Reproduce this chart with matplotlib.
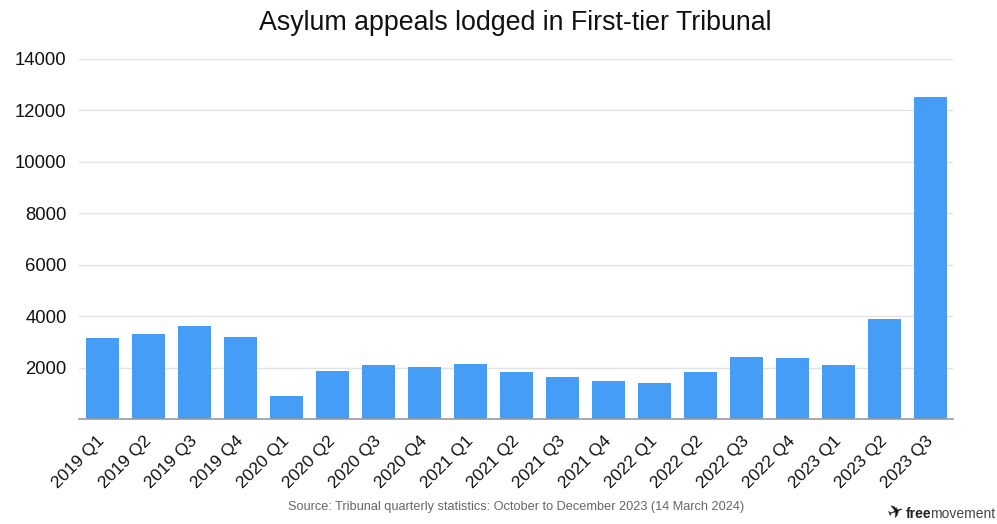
import matplotlib
matplotlib.use("Agg")
import matplotlib.pyplot as plt

# quarterly asylum appeals lodged
quarters = ["2019 Q1", "2019 Q2", "2019 Q3", "2019 Q4",
            "2020 Q1", "2020 Q2", "2020 Q3", "2020 Q4",
            "2021 Q1", "2021 Q2", "2021 Q3", "2021 Q4",
            "2022 Q1", "2022 Q2", "2022 Q3", "2022 Q4",
            "2023 Q1", "2023 Q2", "2023 Q3"]
appeals = [3150, 3300, 3600, 3200,
           900, 1870, 2100, 2010,
           2130, 1820, 1630, 1470,
           1410, 1830, 2400, 2370,
           2090, 3880, 12530]
yticks = [2000, 4000, 6000, 8000, 10000, 12000, 14000]

plt.rcParams["font.family"] = ["Liberation Sans", "DejaVu Sans"]

fig = plt.figure(figsize=(9.97, 5.24), dpi=100)
ax = fig.add_axes([79 / 997, 105 / 524, 874 / 997, 360 / 524])

ax.bar(range(len(quarters)), appeals, width=0.72, color="#459df5", zorder=2)
ax.set_xlim(-0.51, len(quarters) - 0.51)
ax.set_ylim(0, 14000)
ax.set_yticks(yticks)
ax.set_yticklabels([str(v) for v in yticks], fontsize=13.3, color="#111")
ax.yaxis.grid(True, color="#e2e2e2", lw=1, zorder=0)
ax.tick_params(axis="y", length=0, pad=9)
ax.tick_params(axis="x", length=0, pad=14)
ax.set_xticks(range(len(quarters)))
ax.set_xticklabels(quarters, rotation=45, ha="right", va="center",
                   rotation_mode="anchor", fontsize=12.5, color="#111")
for s in ("top", "right", "left"):
    ax.spines[s].set_visible(False)
ax.spines["bottom"].set_color("#9a9a9a")
ax.spines["bottom"].set_linewidth(1.2)

fig.text(515 / 997, 1 - 23 / 524, "Asylum appeals lodged in First-tier Tribunal",
         ha="center", va="center", fontsize=19.3, color="#111")
fig.text(516 / 997, 1 - 507 / 524,
         "Source: Tribunal quarterly statistics: October to December 2023 (14 March 2024)",
         ha="center", va="center", fontsize=9.2, color="#666")
# logo text (bird mark + "freemovement")
fig.text(885 / 997, 1 - 512 / 524, "\u2708", ha="left", va="center",
         fontsize=14, color="#111", family="DejaVu Sans", rotation=20)
fig.text(906 / 997, 1 - 514 / 524, "free", ha="left", va="center",
         fontsize=10, weight="bold", color="#222")
fig.text(930 / 997, 1 - 514 / 524, "movement", ha="left", va="center",
         fontsize=10, color="#444")

fig.savefig("out.png", dpi=100)
